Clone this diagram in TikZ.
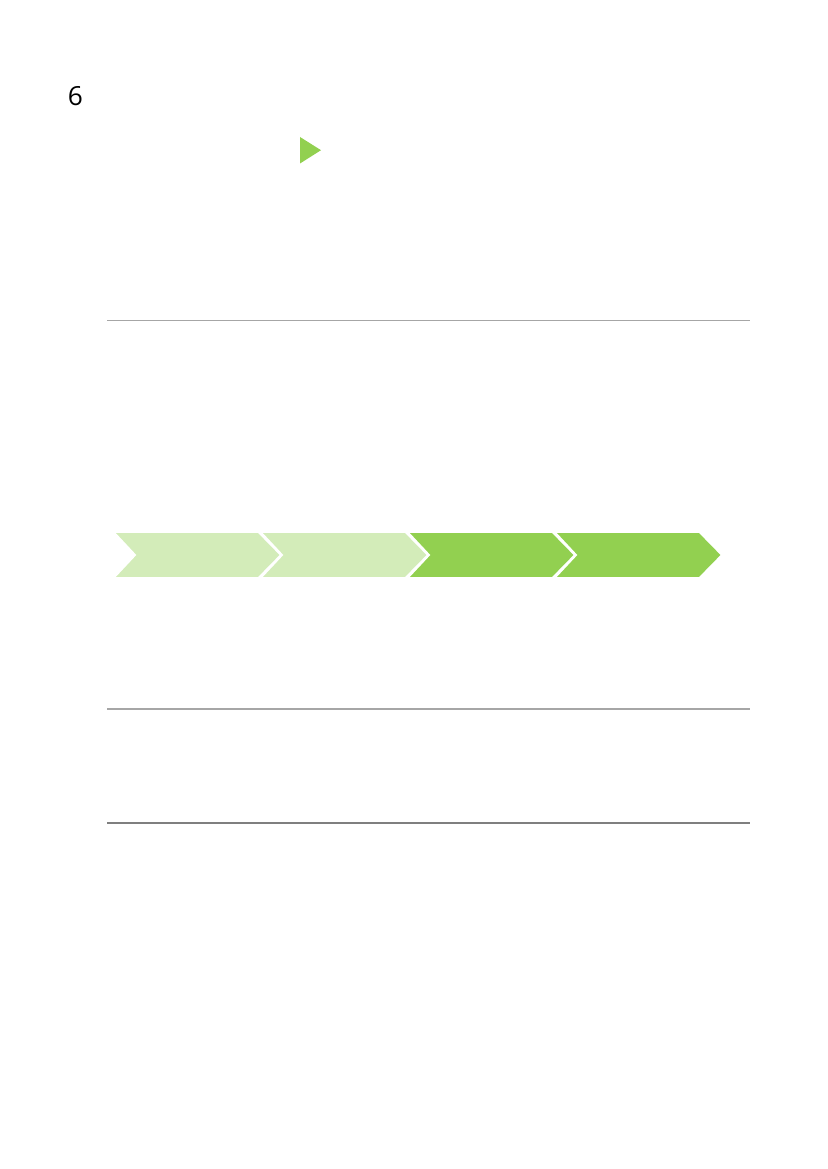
\documentclass[tikz,border=0pt]{standalone}
\usepackage{fontspec}
\setmainfont{Open Sans}
\usepackage{tikz}
\usetikzlibrary{positioning}
\definecolor{leafgreen}{HTML}{92D050}
\definecolor{palegreen}{HTML}{D3ECB9}
\definecolor{rulegray}{HTML}{A6A6A6}
\definecolor{darkrule}{HTML}{7F7F7F}
\newcommand\chevronpath[1]{% left x
  (#1,532) -- ++(145,0) -- ++(22.5,23) -- ++(-22.5,23) -- ++(-145,0)
  -- ++(21.5,-23) -- cycle
}
\tikzset{
    % chevron styles
    pale/.style={
           fill=palegreen,
           draw=white,
           line width=1.4pt,
           },
    bright/.style={
           fill=leafgreen,
           draw=white,
           line width=1.4pt,
           },
    % rule styles
    rulelight/.style={
           rulegray,
           line width=1.2pt,
           },
    ruledark/.style={
           darkrule,
           line width=1.2pt,
           }
}

\begin{document}
\begin{tikzpicture}[x=0.254mm,y=-0.254mm]
  	\useasboundingbox (0,0) rectangle (827,1169);
  	\coordinate (ra) at (107,320.5);
  	\coordinate (rb) at (750,320.5);
  	\coordinate (sa) at (107,708.7);
  	\coordinate (sb) at (750,708.7);
  	\coordinate (ta) at (107,823.3);
  	\coordinate (tb) at (750,823.3);
  	\node (num) at (75.5,106) [anchor=base, inner sep=0pt] {\fontsize{19}{22}\selectfont 6};
  	\fill[leafgreen] (300,137) -- (300,163.5) -- (321,150.2) -- cycle;
  	\draw[pale] \chevronpath{113.5};
  	\draw[pale] \chevronpath{260.5};
  	\draw[bright] \chevronpath{407.5};
  	\draw[bright] \chevronpath{554.5};
  	\draw[rulelight] (ra) -- (rb);
  	\draw[rulelight] (sa) -- (sb);
  	\draw[ruledark] (ta) -- (tb);
\end{tikzpicture}
\end{document}
